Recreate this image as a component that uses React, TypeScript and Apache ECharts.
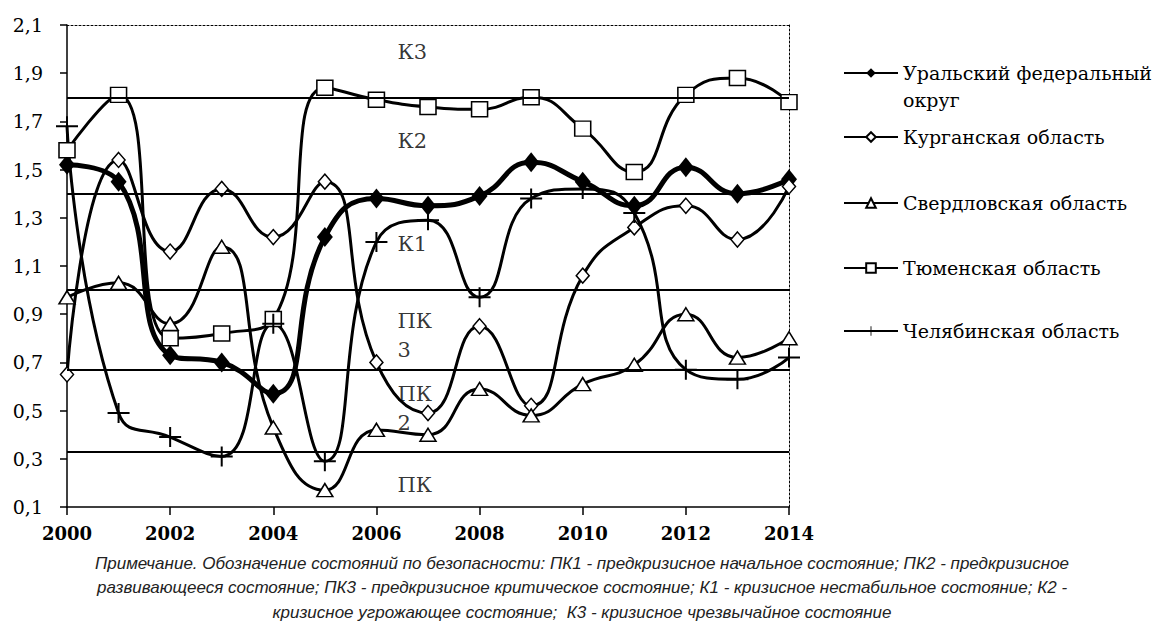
import React, { useEffect, useRef } from 'react';
import * as echarts from 'echarts';

const years = [2000, 2001, 2002, 2003, 2004, 2005, 2006, 2007, 2008, 2009, 2010, 2011, 2012, 2013, 2014];
const seriesNames = [
  'Уральский федеральный округ',
  'Курганская область',
  'Свердловская область',
  'Тюменская область',
  'Челябинская область',
];
const ural = [1.52, 1.45, 0.73, 0.70, 0.57, 1.22, 1.38, 1.35, 1.39, 1.53, 1.45, 1.35, 1.51, 1.40, 1.46];
const kurgan = [0.65, 1.54, 1.16, 1.42, 1.22, 1.45, 0.70, 0.49, 0.85, 0.52, 1.06, 1.26, 1.35, 1.21, 1.43];
const sverdl = [0.97, 1.03, 0.86, 1.18, 0.43, 0.17, 0.42, 0.40, 0.59, 0.48, 0.61, 0.69, 0.90, 0.72, 0.80];
const tyumen = [1.58, 1.81, 0.80, 0.82, 0.88, 1.84, 1.79, 1.76, 1.75, 1.80, 1.67, 1.49, 1.81, 1.88, 1.78];
const chelyab = [1.68, 0.49, 0.39, 0.31, 0.86, 0.29, 1.20, 1.29, 0.97, 1.38, 1.42, 1.32, 0.67, 0.63, 0.72];

const thresholds = [1.8, 1.4, 1.0, 0.67, 0.33];
const bandNames = ['К3', 'К2', 'К1', 'ПК\n3', 'ПК\n2', 'ПК'];
const bandLevels = [1.99, 1.62, 1.19, 0.81, 0.51, 0.19];
const bandYear = 2006.4;

const yMin = 0.1;
const yMax = 2.1;
const yStep = 0.2;
const xStep = 2;

const noteLines = [
  'Примечание. Обозначение состояний по безопасности: ПК1 - предкризисное начальное состояние; ПК2 - предкризисное',
  'развивающееся состояние; ПК3 - предкризисное критическое состояние; К1 - кризисное нестабильное состояние; К2 -',
  'кризисное угрожающее состояние;  К3 - кризисное чрезвычайное состояние',
];

const legendTops = [73, 137, 203, 268, 331];

const PLUS = 'path://M0,9H22V11H0Z M10,0H12V20H10Z';
const SERIF = 'DejaVu Serif';

export default function App() {
  const ref = useRef<HTMLDivElement>(null);
  useEffect(() => {
    if (!ref.current) return;
    const chart = echarts.init(ref.current, null, { renderer: 'svg' });
    const pair = (arr: number[]) => years.map((y, i) => [y, arr[i]]);
    const openItem = { color: '#fff', borderColor: '#000', borderWidth: 1.5 };
    const seriesDefs = [
      { data: ural, symbol: 'diamond', symbolSize: [16, 20], width: 5, item: { color: '#000', borderColor: '#000', borderWidth: 0 } },
      { data: kurgan, symbol: 'diamond', symbolSize: [13, 15], width: 3, item: openItem },
      { data: sverdl, symbol: 'triangle', symbolSize: [16, 13], width: 3, item: openItem },
      { data: tyumen, symbol: 'rect', symbolSize: [16, 15], width: 3, item: openItem },
      { data: chelyab, symbol: PLUS, symbolSize: [22, 20], width: 3, item: { color: '#000', borderWidth: 0 } },
    ];
    const lineSeries = seriesDefs.map((d, i) => ({
      type: 'line',
      name: seriesNames[i],
      data: pair(d.data),
      smooth: 0.5,
      symbol: d.symbol,
      symbolSize: d.symbolSize,
      showAllSymbol: true,
      lineStyle: { color: '#000', width: d.width },
      itemStyle: d.item,
      z: 3,
    }));

    const legends = seriesNames.map((name, i) => {
      const first = i === 0;
      return {
        data: [name],
        left: 843,
        top: first ? legendTops[i] - 40.5 : legendTops[i] - 13,
        padding: 0,
        orient: 'vertical',
        itemWidth: 54,
        itemHeight: 12,
        selectedMode: false,
        formatter: first ? '\nУральский федеральный\nокруг' : '{name}',
        textStyle: {
          fontFamily: SERIF,
          fontSize: 19,
          color: '#000',
          lineHeight: first ? 27 : 26,
        },
      };
    });

    const option = {
      animation: false,
      backgroundColor: '#fff',
      grid: { left: 67, right: 376, top: 25, bottom: 116, containLabel: false },
      legend: legends,
      xAxis: [
        {
          type: 'value',
          min: years[0],
          max: years[years.length - 1],
          interval: xStep,
          axisLine: { show: true, lineStyle: { color: '#000', width: 1.5 } },
          axisTick: { show: true, length: 8, lineStyle: { color: '#000', width: 1.5 } },
          splitLine: { show: false },
          axisLabel: {
            formatter: (v: number) => String(v),
            fontFamily: SERIF,
            fontSize: 18,
            fontWeight: 'bold',
            color: '#000',
            margin: 17,
          },
        },
        {
          type: 'value',
          position: 'top',
          min: years[0],
          max: years[years.length - 1],
          axisLine: { show: true, lineStyle: { color: '#000', width: 1, type: [2, 2] } },
          axisTick: { show: false },
          axisLabel: { show: false },
          splitLine: { show: false },
        },
      ],
      yAxis: [
        {
          type: 'value',
          min: yMin,
          max: yMax,
          interval: yStep,
          axisLine: { show: true, lineStyle: { color: '#000', width: 1.5 } },
          axisTick: { show: true, length: 7, lineStyle: { color: '#000', width: 1.5 } },
          splitLine: { show: false },
          axisLabel: {
            formatter: (v: number) => v.toFixed(1).replace('.', ','),
            fontFamily: SERIF,
            fontSize: 19,
            color: '#000',
            margin: 24,
          },
        },
        {
          type: 'value',
          position: 'right',
          min: yMin,
          max: yMax,
          axisLine: { show: true, lineStyle: { color: '#000', width: 1, type: [2, 2] } },
          axisTick: { show: false },
          axisLabel: { show: false },
          splitLine: { show: false },
        },
      ],
      series: [
        {
          type: 'scatter',
          name: 'bands',
          data: bandLevels.map((v, i) => ({ value: [bandYear, v], name: bandNames[i] })),
          symbolSize: 1,
          itemStyle: { color: 'rgba(0,0,0,0)' },
          silent: true,
          z: 1,
          label: {
            show: true,
            position: 'right',
            distance: 0,
            formatter: '{b}',
            align: 'left',
            fontFamily: SERIF,
            fontSize: 21,
            lineHeight: 29,
            color: '#000',
          },
          markLine: {
            silent: true,
            symbol: ['none', 'none'],
            label: { show: false },
            lineStyle: { color: '#000', width: 2, type: 'solid' },
            data: thresholds.map((v) => ({ yAxis: v })),
          },
        },
        ...lineSeries,
      ],
      graphic: noteLines.map((t, i) => ({
        type: 'text',
        x: 582,
        y: 563 + i * 24.5,
        style: {
          text: t,
          fill: '#222',
          fontFamily: 'Liberation Sans, sans-serif',
          fontStyle: 'italic',
          fontSize: 17,
          align: 'center',
          verticalAlign: 'middle',
        },
      })),
    };
    chart.setOption(option as any);
    return () => chart.dispose();
  }, []);
  return <div ref={ref} style={{ position: 'fixed', left: 0, top: 0, width: 1165, height: 623, background: '#fff' }} />;
}
